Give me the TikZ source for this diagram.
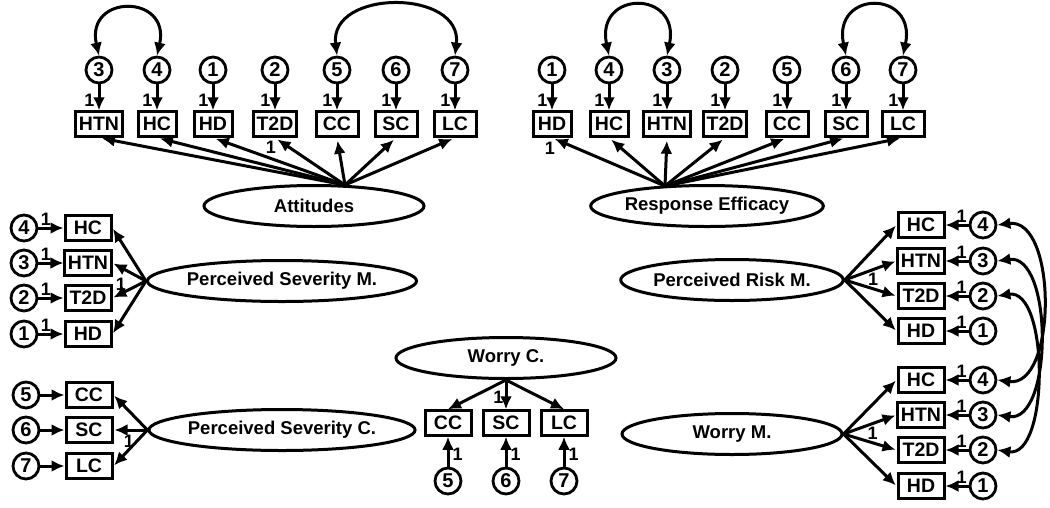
\documentclass[tikz,border=0pt]{standalone}
\usepackage{fontspec}
\setmainfont{Liberation Sans}
\usetikzlibrary{arrows.meta,shapes.geometric}
\tikzset{
  box/.style={draw, line width=3pt, minimum height=24.5pt, minimum width=38pt, inner sep=3pt, font=\fontsize{19.5}{19.5}\selectfont\bfseries},
  wbox/.style={box, minimum width=42pt},
  sbox/.style={box, minimum width=46pt},
  circ/.style={circle, draw, line width=2.8pt, minimum size=26pt, inner sep=0pt, font=\fontsize{20}{20}\selectfont\bfseries},
  lat/.style={ellipse, draw, line width=3pt, minimum width=220pt, minimum height=41pt, inner sep=0pt, font=\fontsize{18.5}{18.5}\selectfont\bfseries},
  arr/.style={line width=3pt, -{Latex[length=13pt,width=12pt]}},
  darr/.style={line width=3pt, {Latex[length=13pt,width=12pt]}-{Latex[length=13pt,width=12pt]}},
  lbl/.style={font=\fontsize{18}{18}\selectfont\bfseries, inner sep=1pt}
}
\begin{document}
\begin{tikzpicture}[x=1pt,y=-1pt]
\useasboundingbox (0,0) rectangle (1050,507);

% ---------- Attitudes ----------
\foreach \i/\lab/\num/\x/\st in {1/HTN/3/99/box, 2/HC/4/157/box, 3/HD/1/213/box, 4/T2D/2/275/box, 5/CC/5/337/wbox, 6/SC/6/396/wbox, 7/LC/7/455/wbox} {
  \node[\st] (ab\i) at (\x,124) {\lab};
  \node[circ] (ae\i) at (\x,70) {\num};
  \draw[arr] (ae\i) -- node[lbl,pos=0.62,left=2pt]{1} (ab\i);
}
\node[lat] (att) at (314,206) {Attitudes};
\coordinate (attS) at (345,185);
\foreach \i in {1,2,3,5,6,7} \draw[arr, shorten >=3pt] (attS) -- (ab\i.south);
\draw[arr, shorten >=3pt] (attS) -- node[lbl,pos=0.9,xshift=-11pt,yshift=-5pt]{1} (ab4.south);
\draw[darr] (ae1.north) .. controls +(-14,-62) and +(14,-62) .. (ae2.north);
\draw[darr] (ae5.north) .. controls +(-8,-67) and +(8,-67) .. (ae7.north);

% ---------- Response Efficacy ----------
\foreach \i/\lab/\num/\x/\st in {1/HD/1/552/box, 2/HC/4/609/box, 3/HTN/3/667/box, 4/T2D/2/725/box, 5/CC/5/787/wbox, 6/SC/6/846/wbox, 7/LC/7/903/wbox} {
  \node[\st] (rb\i) at (\x,124) {\lab};
  \node[circ] (re\i) at (\x,70) {\num};
  \draw[arr] (re\i) -- node[lbl,pos=0.62,left=2pt]{1} (rb\i);
}
\node[lat] (reff) at (707,206) {Response Efficacy};
\coordinate (reS) at (665,186);
\foreach \i in {2,3,4,5,6,7} \draw[arr, shorten >=3pt] (reS) -- (rb\i.south);
\draw[arr, shorten >=3pt] (reS) -- node[lbl,pos=0.93,xshift=-10pt,yshift=-7pt]{1} (rb1.south);
\draw[darr] (re2.north) .. controls +(-14,-66) and +(14,-66) .. (re3.north);
\draw[darr] (re6.north) .. controls +(-14,-66) and +(14,-66) .. (re7.north);

% ---------- Perceived Severity M. ----------
\foreach \i/\lab/\num/\y in {1/HC/4/228, 2/HTN/3/263, 3/T2D/2/298, 4/HD/1/334} {
  \node[sbox] (mb\i) at (88,\y) {\lab};
  \node[circ] (me\i) at (24,\y) {\num};
  \draw[arr] (me\i) -- node[lbl,pos=0.3,above=0pt]{1} (mb\i);
}
\node[lat, minimum width=224pt] (psm) at (282,281) {Perceived Severity M.};
\foreach \i in {1,2,4} \draw[arr, shorten >=1pt] (psm.west) -- (mb\i.east);
\draw[arr, shorten >=1pt] (psm.west) -- node[lbl,pos=0.75,above=1pt]{1} (mb3.east);

% ---------- Perceived Severity C. ----------
\foreach \i/\lab/\num/\y in {1/CC/5/395, 2/SC/6/430, 3/LC/7/466} {
  \node[sbox] (cb\i) at (89,\y) {\lab};
  \node[circ] (ce\i) at (26,\y) {\num};
  \draw[arr] (ce\i) -- (cb\i);
}
\node[lat, minimum width=222pt] (psc) at (282,430) {Perceived Severity C.};
\foreach \i in {1,2} \draw[arr, shorten >=1pt] (psc.west) -- (cb\i.east);
\draw[arr, shorten >=1pt] (psc.west) -- node[lbl,pos=0.55,above=0pt]{1} (cb3.east);

% ---------- Worry C. ----------
\node[lat] (wc) at (506,358) {Worry C.};
\foreach \i/\lab/\num/\x in {1/CC/5/448, 2/SC/6/506, 3/LC/7/564} {
  \node[sbox] (wcb\i) at (\x,423) {\lab};
  \node[circ] (wce\i) at (\x,481) {\num};
  \draw[arr] (wce\i) -- node[lbl,pos=0.4,right=2pt]{1} (wcb\i);
}
\draw[arr] (wc.south) -- (wcb1.north);
\draw[arr] (wc.south) -- node[lbl,pos=0.6,left=0pt]{1} (wcb2.north);
\draw[arr] (wc.south) -- (wcb3.north);

% ---------- Perceived Risk M. ----------
\foreach \i/\lab/\num/\y in {1/HC/4/225, 2/HTN/3/261, 3/T2D/2/296, 4/HD/1/331} {
  \node[sbox] (pb\i) at (921,\y) {\lab};
  \node[circ] (pe\i) at (983,\y) {\num};
  \draw[arr] (pe\i) -- node[lbl,pos=0.3,above=0pt]{1} (pb\i);
}
\node[lat] (prm) at (732,280) {Perceived Risk M.};
\foreach \i in {1,2,4} \draw[arr, shorten >=1pt] (prm.east) -- (pb\i.west);
\draw[arr, shorten >=1pt] (prm.east) -- node[lbl,pos=0.55,above=1pt]{1} (pb3.west);

% ---------- Worry M. ----------
\foreach \i/\lab/\num/\y in {1/HC/4/380, 2/HTN/3/415, 3/T2D/2/450, 4/HD/1/486} {
  \node[sbox] (wb\i) at (921,\y) {\lab};
  \node[circ] (we\i) at (983,\y) {\num};
  \draw[arr] (we\i) -- node[lbl,pos=0.3,above=0pt]{1} (wb\i);
}
\node[lat] (wm) at (732,434) {Worry M.};
\foreach \i in {1,2,4} \draw[arr, shorten >=1pt] (wm.east) -- (wb\i.west);
\draw[arr, shorten >=1pt] (wm.east) -- node[lbl,pos=0.55,above=1pt]{1} (wb3.west);

% ---------- correlated errors on the right ----------
\draw[darr] (pe1.east) .. controls +(60,-8) and +(60,8) .. (we1.east);
\draw[darr] (pe2.east) .. controls +(56,-8) and +(56,8) .. (we2.east);
\draw[darr] (pe3.east) .. controls +(52,-8) and +(52,8) .. (we3.east);
\end{tikzpicture}
\end{document}
